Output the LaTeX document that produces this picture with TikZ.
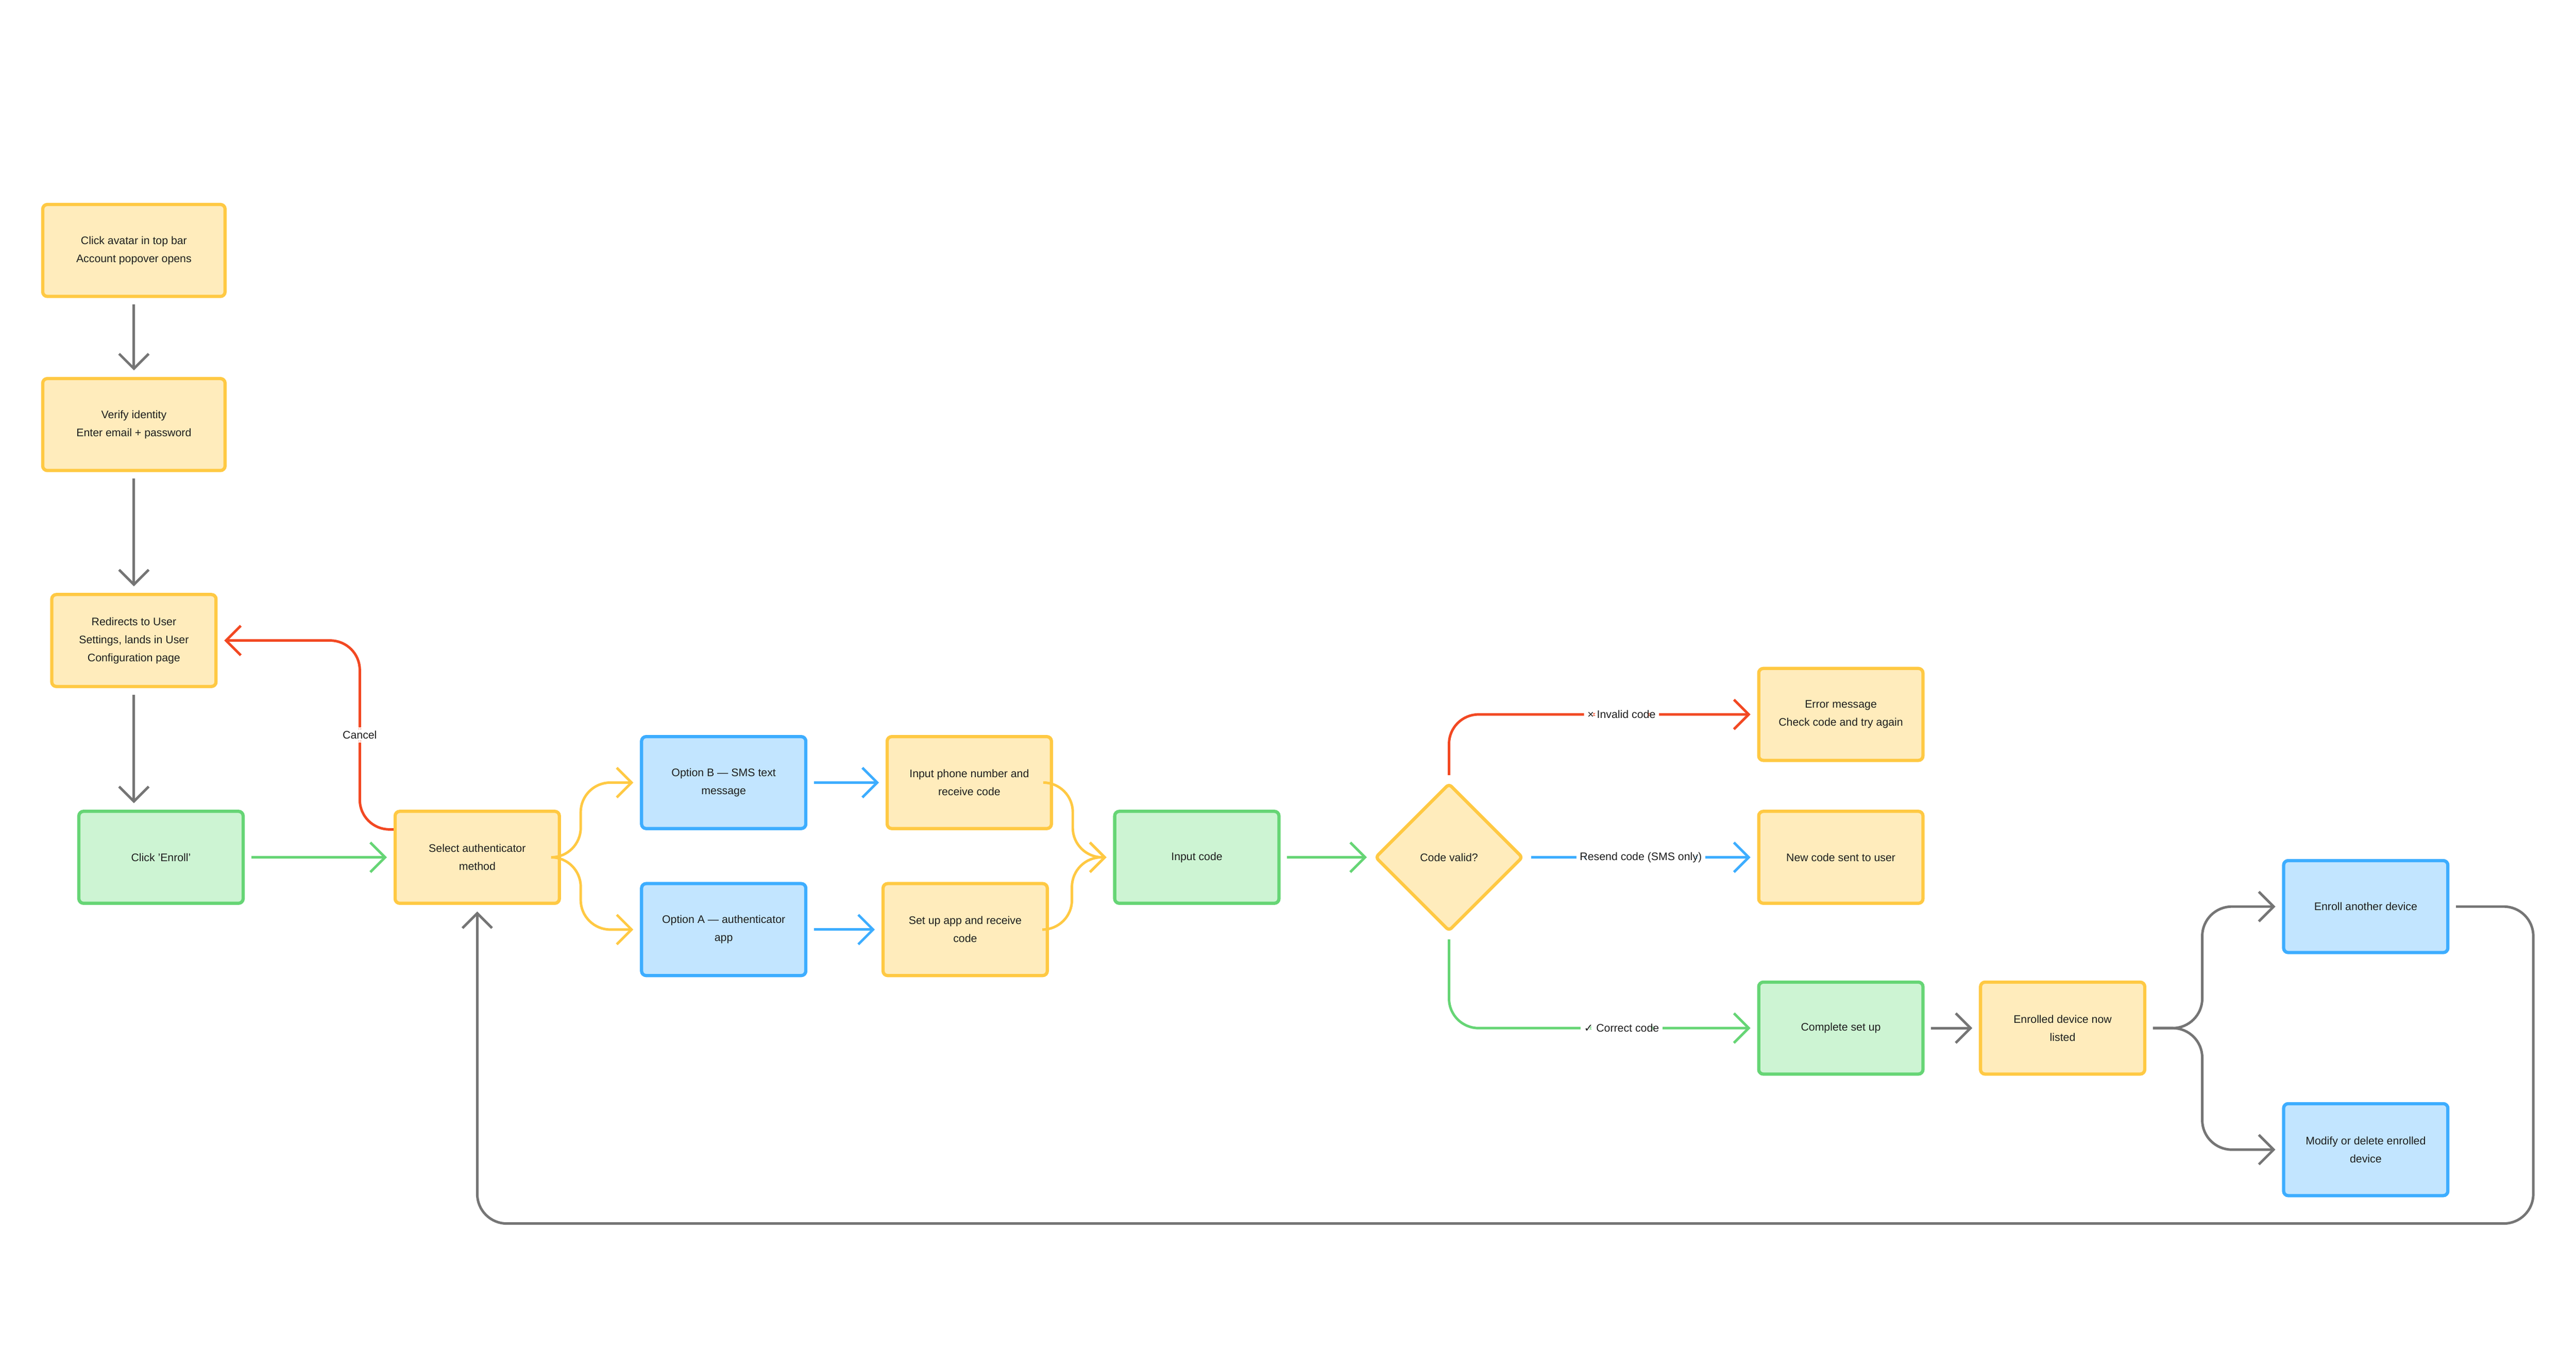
\documentclass[tikz,border=0pt]{standalone}
\usepackage{fontspec}
\setmainfont{Liberation Sans}
\newfontfamily\symfont{DejaVu Sans}
\usepackage{xcolor}
\usetikzlibrary{positioning,arrows.meta,shapes.geometric}
\definecolor{ylfill}{HTML}{FFECBC}
\definecolor{yldraw}{HTML}{FFC943}
\definecolor{grfill}{HTML}{CDF4D3}
\definecolor{grdraw}{HTML}{66D575}
\definecolor{blfill}{HTML}{C2E5FF}
\definecolor{bldraw}{HTML}{3DADFF}
\definecolor{rdline}{HTML}{F24822}
\definecolor{gyline}{HTML}{757575}
\definecolor{txt}{HTML}{1E1E1E}
\tikzset{
  box/.style={draw, line width=2.8pt, rounded corners=4pt, minimum width=5cm, minimum height=2.8cm,
    align=center, text=txt, font=\fontsize{9.5}{15.6}\selectfont},
  ybox/.style={box, fill=ylfill, draw=yldraw},
  gbox/.style={box, fill=grfill, draw=grdraw},
  bbox/.style={box, fill=blfill, draw=bldraw},
  conn/.style={line width=2.2pt, rounded corners=0.9cm, shorten <=0.2cm, shorten >=0.2cm,
    -{Straight Barb[length=0.45cm, width=0.9cm, line width=2.2pt]}},
  lbl/.style={fill=white, text=txt, font=\fontsize{9.5}{12}\selectfont, inner sep=3pt}
}
\begin{document}
\begin{tikzpicture}[x=0.05cm, y=-0.05cm]
\useasboundingbox (0,0) rectangle (1568,823.6);

\node[ybox] (avatar) at (81.5,152.5) [minimum width=5.55cm] {Click avatar in top bar\\Account popover opens};
\node[ybox] (verify) at (81.5,258.5) [minimum width=5.55cm] {Verify identity\\Enter email + password};
\node[ybox] (redirect) at (81.5,390) {Redirects to User\\Settings, lands in User\\Configuration page};
\node[gbox] (enroll) at (98,522) {Click 'Enroll'};
\node[ybox] (select) at (290.5,522) {Select authenticator\\method};
\node[bbox] (optb) at (440.5,476.5) {Option B — SMS text\\message};
\node[bbox] (opta) at (440.5,566) {Option A — authenticator\\app};
\node[ybox] (phone) at (590,476.5) {Input phone number and\\receive code};
\node[ybox] (setup) at (587.5,566) {Set up app and receive\\code};
\node[gbox] (input) at (728.5,522) {Input code};
\node[draw=yldraw, fill=ylfill, line width=2.8pt, diamond, aspect=1, inner sep=0pt,
  minimum width=4.5cm, minimum height=4.5cm, rounded corners=3pt, text=txt,
  font=\fontsize{9.5}{15.6}\selectfont] (valid) at (882,522) {Code valid?};
\node[ybox] (error) at (1120.5,435) {Error message\\Check code and try again};
\node[ybox] (newcode) at (1120.5,522) {New code sent to user};
\node[gbox] (complete) at (1120.5,626) {Complete set up};
\node[ybox] (listed) at (1255.5,626) {Enrolled device now\\listed};
\node[bbox] (another) at (1440,552) {Enroll another device};
\node[bbox] (modify) at (1440,700) {Modify or delete enrolled\\device};
\coordinate (loopc) at (1542,745);

% left column
\draw[conn, gyline] (avatar) -- (verify);
\draw[conn, gyline] (verify) -- (redirect);
\draw[conn, gyline] (redirect) -- (redirect |- enroll.north);
\draw[conn, grdraw] (enroll) -- (select);
\draw[conn, rdline, shorten <=0pt] ([yshift=0.85cm]select.west) -- (219,505) -- (219,390)
  node[midway, lbl] {Cancel} -- (redirect.east);

% options
\draw[conn, yldraw] (select.east) -- ++(12,0) |- (optb.west);
\draw[conn, yldraw] (select.east) -- ++(12,0) |- (opta.west);
\draw[conn, bldraw] (optb) -- (phone);
\draw[conn, bldraw] (opta) -- (setup);
\draw[conn, yldraw] (phone.east) -- ++(12,0) |- (input.west);
\draw[conn, yldraw] (setup.east) -- ++(14,0) |- (input.west);
\draw[conn, grdraw] (input) -- (valid);

% decision
\draw[conn, rdline] (valid.north) |- (error.west) node[pos=0.78, lbl] {× Invalid code};
\draw[conn, bldraw] (valid.east) -- (newcode.west) node[midway, lbl] {Resend code (SMS only)};
\draw[conn, grdraw] (valid.south) |- (complete.west) node[pos=0.78, lbl] {{\symfont ✓} Correct code};
\draw[conn, gyline] (complete) -- (listed);

% after enrolment
\draw[conn, gyline] (listed.east) -- ++(34,0) |- (another.west);
\draw[conn, gyline] (listed.east) -- ++(34,0) |- (modify.west);
\draw[conn, gyline] (another.east) -| (loopc) -| (select.south);
\end{tikzpicture}
\end{document}
